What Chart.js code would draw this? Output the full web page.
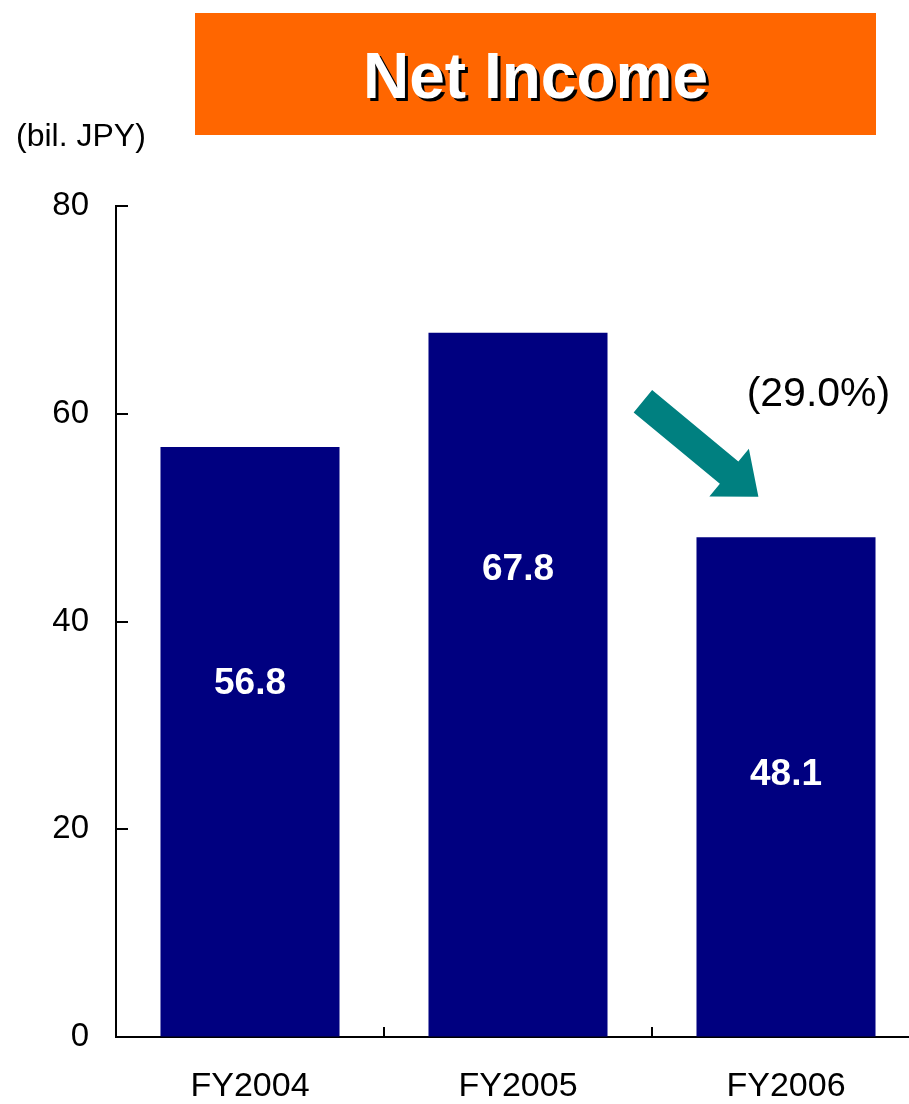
<!DOCTYPE html>
<html>
<head>
<meta charset="utf-8">
<title>Net Income</title>
<script src="https://cdn.jsdelivr.net/npm/chart.js@4.4.1/dist/chart.umd.min.js"></script>
<style>
  html, body { margin: 0; padding: 0; background: #fff; overflow: hidden; }
  #wrap { position: relative; width: 925px; height: 1104px; }
  #chart { position: absolute; left: 0; top: 0; }
  #title {
    position: absolute; left: 195px; top: 13px; width: 681px; height: 122px;
    background: #FF6600; color: #fff;
    font: bold 64px "Liberation Sans", Arial, sans-serif;
    line-height: 126px; text-align: center;
    text-shadow: 3px 3px 0 #000;
  }
  #unit {
    position: absolute; left: 16px; top: 117px;
    font: 32px "Liberation Sans", Arial, sans-serif; color: #000;
  }
</style>
</head>
<body>
<div id="wrap">
  <canvas id="chart" width="925" height="1104"></canvas>
  <div id="title">Net Income</div>
  <div id="unit">(bil. JPY)</div>
</div>
<script>
// Fiscal years and net income (billions of yen)
const categories = ['FY2004', 'FY2005', 'FY2006'];
const netIncome = [56.8, 67.8, 48.1];
const yTicks = [0, 20, 40, 60, 80];
const changeLabel = '(29.0%)';

const FONT = '"Liberation Sans", Arial, sans-serif';

// Short tick marks pointing into the plot area, plus value labels inside bars
const decorations = {
  id: 'decorations',
  afterDatasetsDraw(chart) {
    const { ctx, chartArea, scales } = chart;
    const x = scales.x, y = scales.y;
    ctx.save();
    ctx.strokeStyle = '#000';
    ctx.lineWidth = 2;
    // y-axis inward ticks
    yTicks.forEach(v => {
      const py = Math.round(y.getPixelForValue(v));
      ctx.beginPath();
      ctx.moveTo(chartArea.left, py);
      ctx.lineTo(chartArea.left + 12, py);
      ctx.stroke();
    });
    // x-axis inward ticks at category boundaries
    for (let i = 0; i <= categories.length; i++) {
      const px = Math.round(x.getPixelForValue(i - 0.5));
      ctx.beginPath();
      ctx.moveTo(px, chartArea.bottom);
      ctx.lineTo(px, chartArea.bottom - 10);
      ctx.stroke();
    }
    // value labels inside the bars
    const meta = chart.getDatasetMeta(0);
    ctx.fillStyle = '#fff';
    ctx.font = 'bold 37px ' + FONT;
    ctx.textAlign = 'center';
    ctx.textBaseline = 'middle';
    meta.data.forEach((bar, i) => {
      ctx.fillText(netIncome[i].toFixed(1), bar.x, bar.y + 237);
    });

    // change arrow from FY2005 toward FY2006
    const tail = { x: x.getPixelForValue(1.466), y: y.getPixelForValue(61.2) };
    const tip = { x: x.getPixelForValue(1.897), y: y.getPixelForValue(52.0) };
    const dx = tip.x - tail.x, dy = tip.y - tail.y;
    const len = Math.hypot(dx, dy);
    const ux = dx / len, uy = dy / len;
    const nx = -uy, ny = ux;
    const shaftW = 29, headW = 62, headL = 38;
    const bx = tip.x - ux * headL, by = tip.y - uy * headL;
    ctx.fillStyle = '#008080';
    ctx.beginPath();
    ctx.moveTo(tail.x + nx * shaftW / 2, tail.y + ny * shaftW / 2);
    ctx.lineTo(bx + nx * shaftW / 2, by + ny * shaftW / 2);
    ctx.lineTo(bx + nx * headW / 2, by + ny * headW / 2);
    ctx.lineTo(tip.x, tip.y);
    ctx.lineTo(bx - nx * headW / 2, by - ny * headW / 2);
    ctx.lineTo(bx - nx * shaftW / 2, by - ny * shaftW / 2);
    ctx.lineTo(tail.x - nx * shaftW / 2, tail.y - ny * shaftW / 2);
    ctx.closePath();
    ctx.fill();

    // change percentage text
    ctx.fillStyle = '#000';
    ctx.font = '41px ' + FONT;
    ctx.textAlign = 'center';
    ctx.textBaseline = 'middle';
    ctx.fillText(changeLabel, x.getPixelForValue(2.121), y.getPixelForValue(61.8));
    ctx.restore();
  }
};

new Chart(document.getElementById('chart'), {
  type: 'bar',
  data: {
    labels: categories,
    datasets: [{
      data: netIncome,
      backgroundColor: '#000080',
      borderWidth: 0,
      categoryPercentage: 1,
      barPercentage: 0.668
    }]
  },
  options: {
    responsive: false,
    devicePixelRatio: 1,
    animation: false,
    layout: { padding: { top: 206, right: 5, left: 0, bottom: 0 } },
    plugins: {
      legend: { display: false },
      tooltip: { enabled: false },
      title: { display: false }
    },
    scales: {
      x: {
        type: 'category',
        offset: true,
        grid: { display: true, drawOnChartArea: false, drawTicks: false, offset: true, color: 'rgba(0,0,0,0)' },
        border: { display: true, color: '#000', width: 2 },
        ticks: { color: '#000', font: { family: FONT, size: 34 }, padding: 29, maxRotation: 0 },
        afterFit(scale) { scale.height = 67; }
      },
      y: {
        min: 0,
        max: 80,
        afterBuildTicks(scale) { scale.ticks = yTicks.map(v => ({ value: v })); },
        grid: { display: true, drawOnChartArea: false, drawTicks: false, color: 'rgba(0,0,0,0)' },
        border: { display: true, color: '#000', width: 2 },
        ticks: { color: '#000', font: { family: FONT, size: 33 }, padding: 27 },
        afterFit(scale) { scale.width = 116; }
      }
    }
  },
  plugins: [decorations]
});
</script>
</body>
</html>
